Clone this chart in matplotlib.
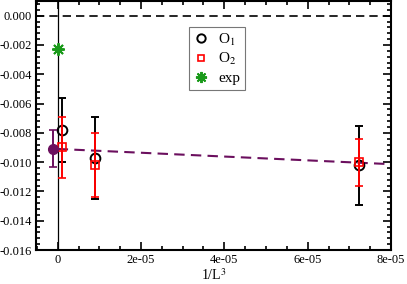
import matplotlib
matplotlib.use('Agg')
import matplotlib.pyplot as plt
from matplotlib.ticker import MultipleLocator, FormatStrFormatter

# data
o1_x = [1.0e-6, 9.0e-6, 7.24e-5]
o1_y = [-0.0078, -0.0097, -0.0102]
o1_err = [0.0022, 0.0028, 0.0027]

o2_x = [1.0e-6, 9.0e-6, 7.24e-5]
o2_y = [-0.0090, -0.0102, -0.0100]
o2_err = [0.0021, 0.0022, 0.0016]

extrap_x = [-1.2e-6]
extrap_y = [-0.0091]
extrap_err = [0.00126]

fit_x = [0.0, 8.0e-5]
fit_y = [-0.0091, -0.01014]

exp_x = [0.0]
exp_y = [-0.00227]

purple = '#6b0f5e'

plt.rcParams['font.family'] = ['Liberation Serif', 'DejaVu Serif']
plt.rcParams['mathtext.fontset'] = 'stix'

fig = plt.figure(figsize=(4.07, 2.84), dpi=100)
ax = fig.add_axes([36 / 407, 1 - 250 / 284, (391 - 36) / 407, (250 - 1) / 284])

ax.axhline(0.0, color='black', linestyle=(0, (5, 3)), linewidth=1.2, zorder=1)
ax.axvline(0.0, color='black', linewidth=0.9, zorder=1)

ax.plot(fit_x, fit_y, color=purple, linestyle=(0, (5, 3)), linewidth=1.5, zorder=2)

ax.errorbar(o1_x, o1_y, yerr=o1_err, fmt='o', color='black', mfc='none', mec='black',
            markersize=7, mew=1.4, capsize=3, elinewidth=1.4, capthick=1.4, zorder=3)
ax.errorbar(o2_x, o2_y, yerr=o2_err, fmt='s', color='red', mfc='none', mec='red',
            markersize=6, mew=1.2, capsize=3, elinewidth=1.4, capthick=1.2, zorder=4)
ax.errorbar(extrap_x, extrap_y, yerr=extrap_err, fmt='o', color=purple, mfc=purple,
            markersize=7, capsize=3, elinewidth=1.4, capthick=1.2, zorder=4)
ax.plot(exp_x, exp_y, linestyle='none', marker=(8, 2, 0), color='#1a9a1a',
        markersize=9, mew=1.4, zorder=5)

# legend
h1 = ax.plot([], [], 'o', mfc='none', mec='black', mew=1.4, markersize=6)[0]
h2 = ax.plot([], [], 's', mfc='none', mec='red', mew=1.2, markersize=5)[0]
h3 = ax.plot([], [], linestyle='none', marker=(8, 2, 0), color='#1a9a1a', markersize=8, mew=1.4)[0]
leg = ax.legend([h1, h2, h3], ['O$_1$', 'O$_2$', 'exp'], loc='upper left',
                bbox_to_anchor=(0.431, 0.896), borderaxespad=0, frameon=True, fancybox=False,
                edgecolor='#555555', fontsize=11, handlelength=1.0, handletextpad=0.6,
                labelspacing=0.25, borderpad=0.3)
leg.get_frame().set_linewidth(0.8)

ax.set_xlim(-5.2e-6, 8.0e-5)
ax.set_ylim(-0.016, 0.001)
ax.xaxis.set_major_locator(MultipleLocator(2e-5))
ax.xaxis.set_minor_locator(MultipleLocator(5e-6))
ax.yaxis.set_major_locator(MultipleLocator(0.002))
ax.yaxis.set_minor_locator(MultipleLocator(0.0004))
ax.yaxis.set_major_formatter(FormatStrFormatter('%.3f'))
ax.set_xticks([0, 2e-5, 4e-5, 6e-5, 8e-5])
ax.set_xticklabels(['0', '2e-05', '4e-05', '6e-05', '8e-05'])

ax.tick_params(which='both', direction='in', top=True, right=True, labelsize=9, width=1.2)
ax.tick_params(which='major', length=6, pad=3)
ax.tick_params(which='minor', length=3)
for s in ax.spines.values():
    s.set_linewidth(1.5)

ax.set_xlabel('1/L$^3$', fontsize=10, labelpad=1)

fig.savefig('out.png', dpi=100)
